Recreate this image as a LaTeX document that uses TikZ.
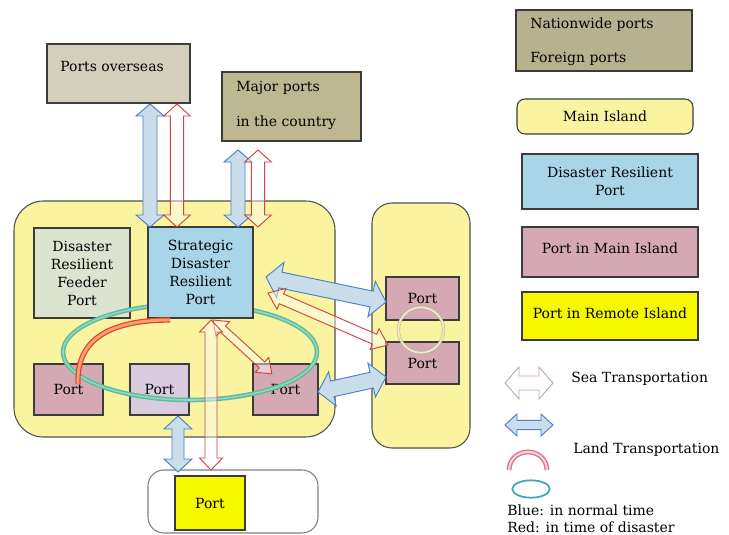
\documentclass[tikz,border=0pt]{standalone}
\usepackage{fontspec}
\setmainfont{DejaVu Serif}
\definecolor{mainyel}{HTML}{FAF4A0}
\definecolor{overfill}{HTML}{D3CFBA}
\definecolor{majfill}{HTML}{BDB892}
\definecolor{natfill}{HTML}{B8B190}
\definecolor{sdrpfill}{HTML}{A8D6E8}
\definecolor{pinkfill}{HTML}{D5A9B4}
\definecolor{lavfill}{HTML}{D8CCDE}
\definecolor{feedfill}{HTML}{DCE3CF}
\definecolor{yelport}{HTML}{F7F700}
\definecolor{boxline}{HTML}{3C3C3C}
\definecolor{isl}{HTML}{505050}
\definecolor{arrblue}{HTML}{4A80C8}
\definecolor{arrbluefill}{HTML}{C9DDEA}
\definecolor{arrred}{HTML}{D0453F}
\definecolor{ringcol}{HTML}{5CBC9E}
\definecolor{ringlight}{HTML}{96D6C0}
\definecolor{arcred}{HTML}{E0402E}
\definecolor{arcorange}{HTML}{F4A070}
\definecolor{circgray}{HTML}{B4AE9E}
\definecolor{seaedge}{HTML}{C4A6A8}
\definecolor{legarc}{HTML}{D87585}
\definecolor{legarcin}{HTML}{F5D2D6}
\definecolor{legteal}{HTML}{3FA6B6}
\newdimen\dAx \newdimen\dAy \newdimen\dBx \newdimen\dBy
% double block arrow between two named coordinates
% #1 from, #2 to, #3 shaft half width (pt), #4 head half width (pt), #5 head length (pt), #6 style
\newcommand\dblarrow[6]{%
  \pgfextractx{\dAx}{\pgfpointanchor{#1}{center}}%
  \pgfextracty{\dAy}{\pgfpointanchor{#1}{center}}%
  \pgfextractx{\dBx}{\pgfpointanchor{#2}{center}}%
  \pgfextracty{\dBy}{\pgfpointanchor{#2}{center}}%
  \pgfmathsetmacro\dang{atan2(\dBy-\dAy,\dBx-\dAx)}%
  \pgfmathsetmacro\dlen{veclen(\dBx-\dAx,\dBy-\dAy)}%
  \pgfmathsetmacro\dlh{\dlen-#5}%
  \begin{scope}[shift={(\the\dAx,\the\dAy)},rotate=\dang]
    \draw[#6] (0pt,0pt) -- (#5pt,#4pt) -- (#5pt,#3pt) -- (\dlh pt,#3pt) -- (\dlh pt,#4pt)
      -- (\dlen pt,0pt) -- (\dlh pt,-#4pt) -- (\dlh pt,-#3pt) -- (#5pt,-#3pt) -- (#5pt,-#4pt) -- cycle;
  \end{scope}}
\begin{document}
\begin{tikzpicture}[x=0.75pt,y=-0.75pt,
  font=\fontsize{10.5}{13.5}\selectfont,
  box/.style={draw=boxline, line width=0.8pt, inner sep=0pt, align=center},
  island/.style={draw=isl, line width=0.8pt, rounded corners=22pt, fill=mainyel},
  bluearr/.style={draw=arrblue, line width=0.7pt, fill=arrbluefill, line join=miter},
  redarr/.style={draw=arrred, line width=0.7pt, fill=white, fill opacity=0.45, line join=miter},
  txt/.style={inner sep=0pt, anchor=west}]
\useasboundingbox (0,0) rectangle (729,535);
\fill[white] (0,0) rectangle (729,535);

% islands
\node[island, minimum width=240.75pt, minimum height=177pt] (main) at (174.5,319) {};
\node[island, rounded corners=15pt, minimum width=73.5pt, minimum height=183.75pt] (remote) at (421,325.5) {};
\node[island, fill=white, draw=gray, rounded corners=12pt, minimum width=127.5pt, minimum height=47.25pt] (bottomisl) at (233,501.5) {};

% top boxes
\node[box, fill=overfill, minimum width=107.25pt, minimum height=44.25pt] (over) at (118.5,73.5) {};
\node[txt] (overt) at (60,66) {Ports overseas};
\node[box, fill=majfill, minimum width=104.25pt, minimum height=51.75pt] (major) at (291.5,106.5) {};
\node[txt] (majt1) at (236,88) {Major ports};
\node[txt] (majt2) at (236,123) {in the country};

% legend boxes
\node[box, fill=natfill, minimum width=132pt, minimum height=45.75pt] (lg1) at (604,40.5) {};
\node[txt] (lg1a) at (530,25) {Nationwide ports};
\node[txt] (lg1b) at (530,59) {Foreign ports};
\node[box, fill=mainyel, rounded corners=6pt, minimum width=132pt, minimum height=26.25pt] (lg2) at (605,116.5) {Main Island};
\node[box, fill=sdrpfill, minimum width=132pt, minimum height=41.25pt] (lg3) at (610,181.5) {Disaster Resilient\\Port};
\node[box, fill=pinkfill, minimum width=132pt, minimum height=37.5pt, text depth=6pt] (lg4) at (610,252) {Port in Main Island};
\node[box, fill=yelport, minimum width=132pt, minimum height=36pt, text depth=4pt] (lg5) at (610,316) {Port in Remote Island};

% ports in islands
\node[box, fill=feedfill, minimum width=72pt, minimum height=67.5pt] (feeder) at (82,273) {Disaster\\Resilient\\Feeder\\Port};
\node[box, fill=pinkfill, minimum width=51.75pt, minimum height=38.25pt] (portL) at (68.5,389.5) {Port};
\node[box, fill=lavfill, minimum width=44.25pt, minimum height=38.25pt] (portM) at (159.5,389.5) {Port};
\node[box, fill=pinkfill, minimum width=48.75pt, minimum height=38.25pt] (portR) at (285.5,389.5) {Port};
\node[box, fill=pinkfill, minimum width=54.75pt, minimum height=32.25pt] (rport1) at (422.5,298.5) {Port};
\node[box, fill=pinkfill, minimum width=54.75pt, minimum height=31.5pt] (rport2) at (422.5,363) {Port};
\node[box, fill=yelport, minimum width=52.5pt, minimum height=40.5pt] (bport) at (210,503) {Port};

% land transport ring (normal time)
\draw[ringcol, line width=3.4pt] (190,352) ellipse [x radius=95.25pt, y radius=36pt];
\draw[ringlight, line width=1.2pt] (190,352) ellipse [x radius=95.25pt, y radius=36pt];

% strategic port on top of the ring
\node[box, fill=sdrpfill, minimum width=78.75pt, minimum height=68.25pt] (sdrp) at (200.5,272.5) {Strategic\\Disaster\\Resilient\\Port};

% land transport arc (disaster)
\coordinate (arcA) at (78,384);
\coordinate (arcB) at (170,320);
\draw[arcred, line width=4pt] (arcA) .. controls (76,336) and (115,320) .. (arcB);
\draw[arcorange, line width=2.2pt] (arcA) .. controls (76,336) and (115,320) .. (arcB);

% small ring on the remote island
\draw[circgray, line width=0.5pt, double=mainyel!60!white, double distance=1.4pt, opacity=0.8] (421,330) circle [radius=17pt];

% sea transport arrows
\coordinate (a1s) at (150,104); \coordinate (a1e) at (150,227);
\coordinate (a2s) at (177,104); \coordinate (a2e) at (177,227);
\coordinate (a3s) at (238,150); \coordinate (a3e) at (238,227);
\coordinate (a4s) at (258,150); \coordinate (a4e) at (258,227);
\coordinate (a5s) at (266,277); \coordinate (a5e) at (386,302);
\coordinate (a6s) at (268,293); \coordinate (a6e) at (388,345);
\coordinate (a7s) at (213,320); \coordinate (a7e) at (272,374);
\coordinate (a8s) at (211,320); \coordinate (a8e) at (211,470);
\coordinate (a9s) at (178,416); \coordinate (a9e) at (178,472);
\coordinate (a10s) at (318,392); \coordinate (a10e) at (386,377);
\dblarrow{a1s}{a1e}{5.25}{10.5}{9}{bluearr}
\dblarrow{a2s}{a2e}{5}{10}{9}{redarr}
\dblarrow{a3s}{a3e}{5.25}{10.5}{9}{bluearr}
\dblarrow{a4s}{a4e}{5}{10}{9}{redarr}
\dblarrow{a5s}{a5e}{6}{13.5}{11}{bluearr}
\dblarrow{a6s}{a6e}{4}{8.5}{11}{redarr}
\dblarrow{a7s}{a7e}{3}{7.5}{10}{redarr}
\dblarrow{a8s}{a8e}{4.5}{8.6}{9}{redarr}
\dblarrow{a9s}{a9e}{4.5}{10.5}{9.75}{bluearr}
\dblarrow{a10s}{a10e}{6}{13}{11}{bluearr}

% legend symbols
\coordinate (ls1) at (505,383); \coordinate (ls2) at (553,383);
\coordinate (ll1) at (505,425); \coordinate (ll2) at (553,425);
\dblarrow{ls1}{ls2}{5.25}{12}{10.5}{draw=seaedge, line width=0.7pt, fill=white}
\dblarrow{ll1}{ll2}{3.5}{8.25}{9}{bluearr}
\coordinate (lgarcA) at (509,470);
\coordinate (lgarcB) at (547,470);
\draw[legarc, line width=3.6pt] (lgarcA) .. controls (510,446) and (546,446) .. (lgarcB);
\draw[legarcin, line width=1.6pt] (lgarcA) .. controls (510,446) and (546,446) .. (lgarcB);
\draw[legteal, line width=1.3pt] (531,489) ellipse [x radius=14pt, y radius=6.5pt];

\node[txt] (lt1) at (571,379) {Sea Transportation};
\node[txt] (lt2) at (573,450) {Land Transportation};
\node[txt] (lt3) at (507,510) {Blue: in normal time};
\node[txt] (lt4) at (507,527) {Red: in time of disaster};
\end{tikzpicture}
\end{document}
